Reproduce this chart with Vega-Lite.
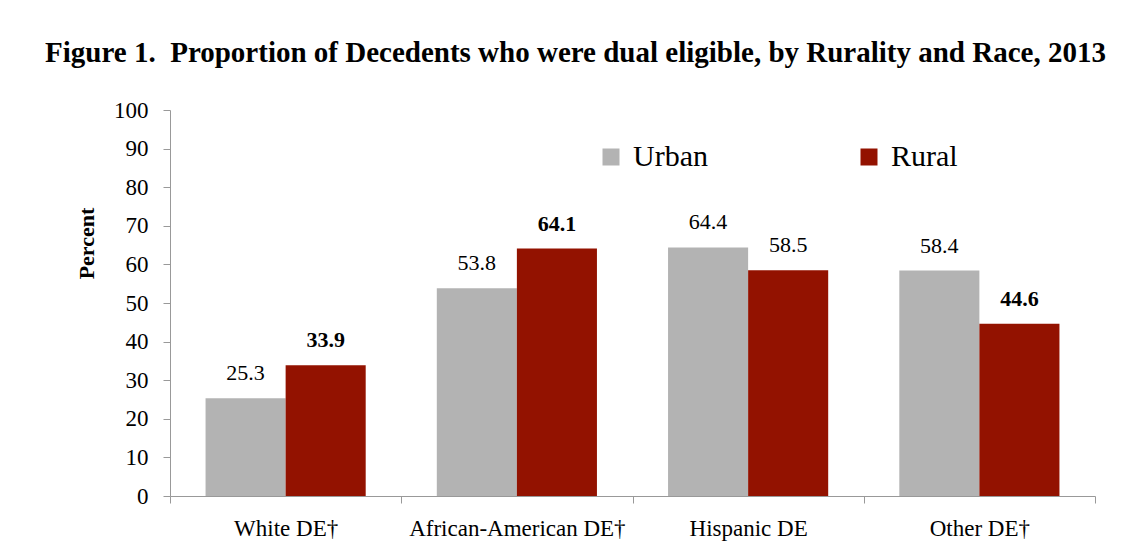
{
  "$schema": "https://vega.github.io/schema/vega-lite/v6.json",
  "width": 925,
  "height": 386,
  "autosize": {"type": "none"},
  "padding": {"left": 170, "top": 110, "right": 46, "bottom": 64},
  "background": "white",
  "config": {
    "view": {"stroke": null},
    "font": "Liberation Serif",
    "axis": {"labelFont": "Liberation Serif", "titleFont": "Liberation Serif", "labelColor": "black", "titleColor": "black", "domainColor": "#999999", "tickColor": "#999999", "grid": false},
    "legend": {"labelFont": "Liberation Serif", "labelFontSize": 30, "labelColor": "black"}
  },
  "title": {
    "text": "Figure 1.\u00a0 Proportion of Decedents who were dual eligible, by Rurality and Race, 2013",
    "font": "Liberation Serif",
    "fontSize": 29,
    "fontWeight": "bold",
    "color": "black",
    "anchor": "middle",
    "dx": -57,
    "offset": 31
  },
  "data": {
    "values": [
      {"race": "White DE†", "group": "Urban", "value": 25.3},
      {"race": "White DE†", "group": "Rural", "value": 33.9},
      {"race": "African-American DE†", "group": "Urban", "value": 53.8},
      {"race": "African-American DE†", "group": "Rural", "value": 64.1},
      {"race": "Hispanic DE", "group": "Urban", "value": 64.4},
      {"race": "Hispanic DE", "group": "Rural", "value": 58.5},
      {"race": "Other DE†", "group": "Urban", "value": 58.4},
      {"race": "Other DE†", "group": "Rural", "value": 44.6}
    ]
  },
  "encoding": {
    "x": {
      "field": "race",
      "type": "nominal",
      "sort": null,
      "scale": {"paddingInner": 0, "paddingOuter": 0},
      "axis": {
        "title": null,
        "labelAngle": 0,
        "labelFontSize": 23,
        "labelPadding": 14,
        "tickSize": 7,
        "tickBand": "extent",
        "labelLimit": 300
      }
    },
    "xOffset": {
      "field": "group",
      "type": "nominal",
      "sort": ["Urban", "Rural"],
      "scale": {"paddingInner": 0, "paddingOuter": 0.444}
    },
    "y": {
      "field": "value",
      "type": "quantitative",
      "scale": {"domain": [0, 100], "nice": false},
      "axis": {
        "title": "Percent",
        "titleFontSize": 22,
        "titleFontWeight": "bold",
        "titleBaseline": "middle",
        "titleX": -84,
        "titleY": 133,
        "labelFontSize": 23,
        "labelPadding": 15,
        "tickSize": 7,
        "values": [0, 10, 20, 30, 40, 50, 60, 70, 80, 90, 100]
      }
    }
  },
  "layer": [
    {
      "mark": {"type": "bar"},
      "encoding": {
        "color": {
          "field": "group",
          "type": "nominal",
          "sort": ["Urban", "Rural"],
          "scale": {"domain": ["Urban", "Rural"], "range": ["#b3b3b3", "#931200"]},
          "legend": {
            "title": null,
            "orient": "none",
            "legendX": 426,
            "legendY": 32,
            "direction": "horizontal",
            "symbolType": "square",
            "symbolSize": 289,
            "symbolStrokeWidth": 0,
            "symbolOpacity": 1,
            "labelFont": "Liberation Serif",
            "labelFontSize": 30,
            "labelColor": "black",
            "labelOffset": 7,
            "columnPadding": 146,
            "padding": 0,
            "labelLimit": 300
          }
        }
      }
    },
    {
      "transform": [{"filter": "datum.group == 'Urban' || indexof(datum.race, '†') < 0"}],
      "mark": {"type": "text", "baseline": "alphabetic", "dy": -18, "fontSize": 22, "font": "Liberation Serif", "color": "black"},
      "encoding": {"text": {"field": "value", "type": "quantitative", "format": ".1f"}}
    },
    {
      "transform": [{"filter": "datum.group == 'Rural' && indexof(datum.race, '†') >= 0"}],
      "mark": {"type": "text", "baseline": "alphabetic", "dy": -18, "fontSize": 22, "font": "Liberation Serif", "fontWeight": "bold", "color": "black"},
      "encoding": {"text": {"field": "value", "type": "quantitative", "format": ".1f"}}
    }
  ]
}
